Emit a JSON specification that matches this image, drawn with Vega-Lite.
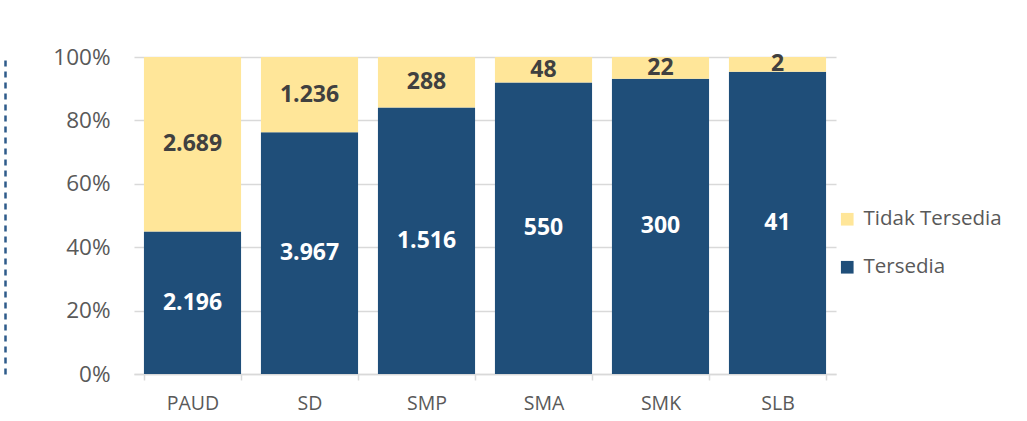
{
  "$schema": "https://vega.github.io/schema/vega-lite/v6.json",
  "width": 702,
  "height": 317,
  "autosize": {"type": "none"},
  "padding": {"left": 134, "top": 57, "right": 191, "bottom": 47},
  "background": "white",
  "config": {
    "locale": {"number": {"decimal": ",", "thousands": ".", "grouping": [3], "currency": ["", ""]}},
    "font": "Open Sans",
    "view": {"stroke": null}
  },
  "data": {
    "values": [
      {"cat": "PAUD", "status": "Tersedia", "ord": 1, "n": 2196},
      {"cat": "PAUD", "status": "Tidak Tersedia", "ord": 2, "n": 2689},
      {"cat": "SD", "status": "Tersedia", "ord": 1, "n": 3967},
      {"cat": "SD", "status": "Tidak Tersedia", "ord": 2, "n": 1236},
      {"cat": "SMP", "status": "Tersedia", "ord": 1, "n": 1516},
      {"cat": "SMP", "status": "Tidak Tersedia", "ord": 2, "n": 288},
      {"cat": "SMA", "status": "Tersedia", "ord": 1, "n": 550},
      {"cat": "SMA", "status": "Tidak Tersedia", "ord": 2, "n": 48},
      {"cat": "SMK", "status": "Tersedia", "ord": 1, "n": 300},
      {"cat": "SMK", "status": "Tidak Tersedia", "ord": 2, "n": 22},
      {"cat": "SLB", "status": "Tersedia", "ord": 1, "n": 41},
      {"cat": "SLB", "status": "Tidak Tersedia", "ord": 2, "n": 2}
    ]
  },
  "transform": [
    {"stack": "n", "groupby": ["cat"], "sort": [{"field": "ord", "order": "ascending"}], "offset": "normalize", "as": ["y0", "y1"]},
    {"calculate": "(datum.y0 + datum.y1) / 2", "as": "ymid"}
  ],
  "encoding": {
    "x": {
      "field": "cat", "type": "nominal", "sort": null,
      "scale": {"paddingInner": 0.17, "paddingOuter": 0.085},
      "axis": {
        "title": null, "labelAngle": 0, "labelFontSize": 19.5, "labelColor": "#595959",
        "labelPadding": 14, "domainColor": "#d9d9d9", "domainWidth": 1.5,
        "tickColor": "#d9d9d9", "tickBand": "extent", "tickSize": 6, "tickWidth": 1.5
      }
    }
  },
  "layer": [
    {
      "mark": {"type": "bar"},
      "encoding": {
        "y": {
          "field": "y0", "type": "quantitative",
          "scale": {"domain": [0, 1], "nice": false},
          "axis": {
            "title": null, "format": "%", "values": [0, 0.2, 0.4, 0.6, 0.8, 1],
            "labelFontSize": 22.5, "labelColor": "#595959", "labelOverlap": false,
            "ticks": false, "grid": true, "gridColor": "#d9d9d9", "gridWidth": 1.5,
            "domain": true, "domainColor": "#2E5B8A", "domainDash": [6, 5], "domainWidth": 2.5,
            "offset": 129, "labelPadding": -105
          }
        },
        "y2": {"field": "y1"},
        "color": {
          "field": "status", "type": "nominal",
          "scale": {"domain": ["Tidak Tersedia", "Tersedia"], "range": ["#FFE699", "#1F4E79"]},
          "legend": {
            "title": null, "orient": "none", "legendX": 703, "legendY": 152,
            "labelFontSize": 20.5, "labelColor": "#595959", "symbolType": "square",
            "symbolSize": 160, "rowPadding": 27, "labelOffset": 6, "symbolStrokeWidth": 0
          }
        }
      }
    },
    {
      "mark": {"type": "text", "fontSize": 23, "fontWeight": "bold", "baseline": "middle"},
      "encoding": {
        "y": {"field": "ymid", "type": "quantitative"},
        "text": {"field": "n", "type": "quantitative", "format": ",d"},
        "color": {
          "field": "status", "type": "nominal",
          "scale": {"domain": ["Tidak Tersedia", "Tersedia"], "range": ["#404040", "#FFFFFF"]},
          "legend": null
        }
      }
    }
  ],
  "resolve": {"scale": {"color": "independent"}}
}
